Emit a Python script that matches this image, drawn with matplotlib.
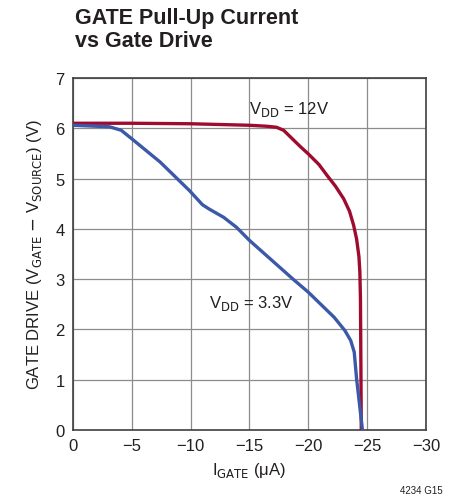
import matplotlib
matplotlib.use("Agg")
import matplotlib.pyplot as plt
from matplotlib import font_manager

# pick a narrow sans if available
names = {f.name for f in font_manager.fontManager.ttflist}
fam = "Liberation Sans Narrow" if "Liberation Sans Narrow" in names else "Liberation Sans"
plt.rcParams['font.family'] = [fam, 'DejaVu Sans']
plt.rcParams['axes.unicode_minus'] = True

# V_DD = 12V curve (I_GATE in uA, gate drive in V)
i_12 = [0, -5, -10, -15, -16.5, -17.3, -17.9, -18.6, -19.3, -20, -20.9, -21.6, -22.3, -23, -23.5,
        -23.85, -24.1, -24.3, -24.38, -24.43, -24.47, -24.5]
v_12 = [6.10, 6.10, 6.09, 6.06, 6.04, 6.02, 5.96, 5.80, 5.64, 5.49, 5.28, 5.06, 4.85, 4.6, 4.35,
        4.07, 3.8, 3.45, 3.14, 2.6, 1.2, 0.0]

# V_DD = 3.3V curve
i_33 = [0, -3.1, -4.1, -5, -7.4, -9.9, -11.0, -11.6, -12.8, -13.9, -15, -18.7, -20, -22.2,
        -23.1, -23.6, -23.9, -24.1, -24.6]
v_33 = [6.06, 6.03, 5.96, 5.79, 5.33, 4.76, 4.48, 4.39, 4.23, 4.03, 3.77, 3.0, 2.74, 2.24,
        1.98, 1.78, 1.55, 1.02, 0.0]

x_ticks = [0, -5, -10, -15, -20, -25, -30]
y_ticks = [0, 1, 2, 3, 4, 5, 6, 7]

fig = plt.figure(figsize=(4.56, 5.02), dpi=100)
ax = fig.add_axes([73/456, 1 - 431/502, 353/456, 352/502])

ax.plot(i_12, v_12, color='#9E0B2F', linewidth=2.4, solid_joinstyle='round', zorder=3)
ax.plot(i_33, v_33, color='#3B59A8', linewidth=2.4, solid_joinstyle='round', zorder=3)

ax.set_xlim(0, -30)
ax.set_ylim(0, 7)
ax.set_xticks(x_ticks)
ax.set_xticklabels(['0' if t == 0 else '\u2212' + str(abs(t)) for t in x_ticks])
ax.set_yticks(y_ticks)
ax.tick_params(length=0, labelsize=12, pad=6, colors='#231f20')
ax.grid(True, color='#8c8c8c', linewidth=0.9)
for s in ax.spines.values():
    s.set_color('#404040')
    s.set_linewidth(1.2)

ax.text(-15.0, 6.3, r'V$_{\rm DD}$ = 12V', fontsize=12, color='#231f20')
ax.text(-11.6, 2.45, r'V$_{\rm DD}$ = 3.3V', fontsize=12, color='#231f20')

ax.set_xlabel(r'I$_{\rm GATE}$ (μA)', fontsize=12, color='#231f20', labelpad=5)
ax.set_ylabel(r'GATE DRIVE (V$_{\rm GATE}$ $-$ V$_{\rm SOURCE}$) (V)', fontsize=12, color='#231f20', labelpad=8)

fig.text(75/456, 1 - 8/502, 'GATE Pull-Up Current\nvs Gate Drive', fontsize=15.5, fontweight='bold',
         va='top', ha='left', linespacing=1.1, color='#231f20')
fig.text(443/456, 1 - 494/502, '4234 G15', fontsize=7, ha='right', color='#231f20')

fig.savefig('out.png', dpi=100)
